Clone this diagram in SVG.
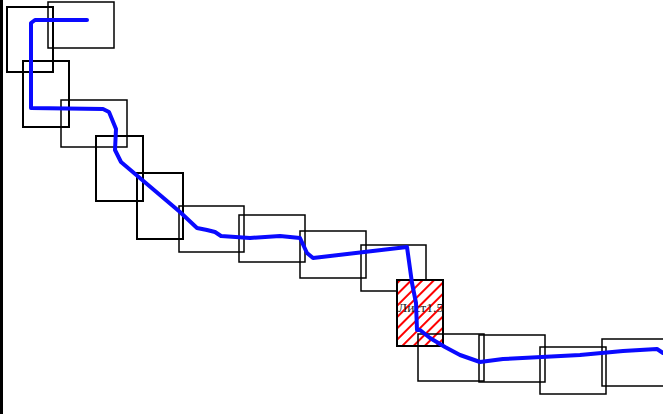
<svg xmlns="http://www.w3.org/2000/svg" width="663" height="414" viewBox="0 0 663 414">
<defs>
<style>
.r{fill:none;stroke:#000;stroke-width:1.5}
.t{fill:none;stroke:#000;stroke-width:2}
.h{fill:url(#hatch);stroke:#000;stroke-width:2}
.p{fill:none;stroke:#0a0aff;stroke-width:4;stroke-linejoin:round;stroke-linecap:round}
.lbl{font-family:"Liberation Serif","DejaVu Serif",serif;font-size:13.5px;fill:#222}
</style>
<pattern id="hatch" patternUnits="userSpaceOnUse" width="8" height="8" patternTransform="rotate(45)">
<rect width="8" height="8" fill="#fff"/>
<line x1="1" y1="0" x2="1" y2="8" stroke="#f00" stroke-width="2"/>
</pattern>
</defs>
<rect width="663" height="414" fill="#fff"/>
<rect x="0" y="0" width="3" height="414" fill="#000"/>
<g id="n1"><rect class="t" x="7" y="7" width="46" height="65"/></g>
<g id="n2"><rect class="r" x="48" y="2" width="66" height="46"/></g>
<g id="n3"><rect class="t" x="23" y="61" width="46" height="66"/></g>
<g id="n4"><rect class="r" x="61" y="100" width="66" height="47"/></g>
<g id="n5"><rect class="t" x="96" y="136" width="47" height="65"/></g>
<g id="n6"><rect class="t" x="137" y="173" width="46" height="66"/></g>
<g id="n7"><rect class="r" x="179" y="206" width="65" height="46"/></g>
<g id="n8"><rect class="r" x="239" y="215" width="66" height="47"/></g>
<g id="n9"><rect class="r" x="300" y="231" width="66" height="47"/></g>
<g id="n10"><rect class="r" x="361" y="245" width="65" height="46"/></g>
<g id="n11"><rect class="h" x="397" y="280" width="46" height="66"/><text class="lbl" x="398" y="312">Лист1.5</text></g>
<g id="n12"><rect class="r" x="418" y="334" width="66" height="47"/></g>
<g id="n13"><rect class="r" x="479" y="335" width="66" height="47"/></g>
<g id="n14"><rect class="r" x="540" y="347" width="66" height="47"/></g>
<g id="n15"><rect class="r" x="602" y="339" width="66" height="47"/></g>
<g id="connectors">
<path class="p" d="M 87 20 L 35 20 L 31 23 L 31 108 L 103 109 L 109 112 L 116 129 L 115 150 L 121 162 L 180 212 L 197 228 L 207 230 L 215 232 L 221 236 L 250 238 L 280 236 L 300 238 L 307 253 L 313 258 L 407 247 L 412 283 L 416 303 L 417 330 L 420 330 L 430 338 L 445 347 L 460 355 L 480 362 L 503 359 L 580 355 L 623 351 L 657 349 L 663 353"/>
</g>
</svg>
